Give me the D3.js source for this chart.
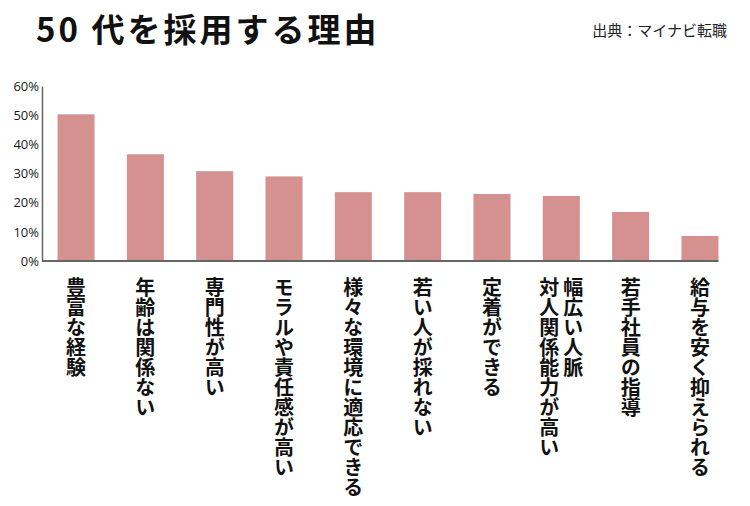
<!DOCTYPE html>
<html>
<head>
<meta charset="utf-8">
<script src="https://cdn.jsdelivr.net/npm/d3@7"></script>
<style>
  body { margin: 0; background: #fff; }
  svg { display: block; }
</style>
</head>
<body>
<div class="chart"></div>
<script>
// 50代を採用する理由 (bar chart)

const width = 750
const height = 506

const categories = [
    "豊富な経験",
    "年齢は関係ない",
    "専門性が高い",
    "モラルや責任感が高い",
    "様々な環境に適応できる",
    "若い人が採れない",
    "定着ができる",
    "幅広い人脈\n対人関係能力が高い",
    "若手社員の指導",
    "給与を安く抑えられる"
]
const values = [50.3, 36.6, 30.8, 29.0, 23.6, 23.6, 23.0, 22.3, 16.8, 8.6]
const tickValues = [0, 10, 20, 30, 40, 50, 60]

const jp = '"Noto Sans CJK JP", sans-serif'

const x = d3.scaleBand()
    .domain(categories)
    .range([42, 734])
    .paddingInner(0.466)
    .paddingOuter(0.224);

const y = d3.scaleLinear()
    .domain([0, 60])
    .range([261, 86]);

const svg = d3.select('.chart').append('svg')
    .attr("width", width)
    .attr("height", height)
    .attr("viewBox", [0, 0, width, height]);

// title + source
svg.append("text")
    .attr("x", 36)
    .attr("y", 42)
    .style("font-family", jp)
    .style("font-weight", 700)
    .style("font-size", "33px")
    .style("letter-spacing", "3px")
    .attr("fill", "#111")
    .text("50 代を採用する理由");

svg.append("text")
    .attr("x", 727)
    .attr("y", 36)
    .attr("text-anchor", "end")
    .style("font-family", jp)
    .style("font-size", "15px")
    .attr("fill", "#222")
    .text("出典：マイナビ転職");

// bars
svg.append("g")
    .selectAll("rect")
    .data(values)
    .join("rect")
    .attr("x", (d, i) => x(categories[i]))
    .attr("y", d => y(d))
    .attr("width", x.bandwidth())
    .attr("height", d => y(0) - y(d))
    .attr("fill", "#d4918f");

// y axis
const yAxis = svg.append("g")
    .attr("transform", `translate(${x.range()[0]},0)`)
    .call(d3.axisLeft(y).tickValues(tickValues).tickSize(0).tickPadding(3).tickFormat(d => d + "%"));

yAxis.select(".domain")
    .attr("stroke", "#666")
    .attr("stroke-width", 1.5);

yAxis.selectAll("text")
    .style("font-family", '"Open Sans", sans-serif')
    .style("font-size", "13px")
    .attr("fill", "#1a1a1a");

// baseline, ends at the last bar
const last = categories[categories.length - 1]
svg.append("line")
    .attr("x1", x.range()[0])
    .attr("x2", x(last) + x.bandwidth())
    .attr("y1", y(0))
    .attr("y2", y(0))
    .attr("stroke", "#666")
    .attr("stroke-width", 2);

// vertical category labels
const lineGap = 24
const labels = svg.append("g")
    .selectAll("g")
    .data(categories)
    .join("g")
    .attr("transform", d => `translate(${x(d) + x.bandwidth() / 2},277)`);

labels.selectAll("text")
    .data(d => {
        const lines = d.split("\n");
        return lines.map((t, i) => ({ t, dx: ((lines.length - 1) / 2 - i) * lineGap }));
    })
    .join("text")
    .attr("x", d => d.dx)
    .attr("y", 0)
    .style("writing-mode", "vertical-rl")
    .style("text-orientation", "upright")
    .style("font-family", jp)
    .style("font-weight", 700)
    .style("font-size", "20px")
    .attr("fill", "#111")
    .text(d => d.t);
</script>
</body>
</html>
